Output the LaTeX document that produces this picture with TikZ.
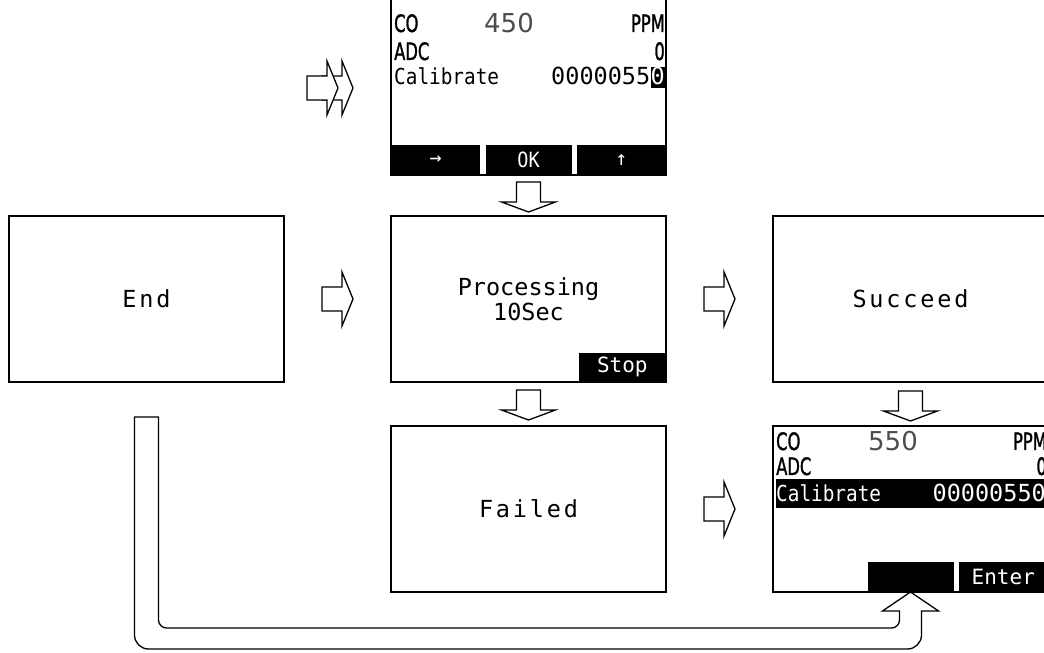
\documentclass[tikz,border=0pt]{standalone}
\usepackage{fontspec}
\setmainfont{DejaVu Sans}
\newfontfamily\lcdfont{DejaVu Sans Mono}
\newfontfamily\lcdwide[LetterSpace=12]{DejaVu Sans Mono}
\newfontfamily\lcdnarrow[FakeStretch=0.88]{DejaVu Sans Mono}
\newfontfamily\lcdcond[FakeStretch=0.68, FakeBold=1.2]{DejaVu Sans}
\usetikzlibrary{positioning}

% block arrows, tip at #1
\newcommand{\blockright}[1]{%
  \draw[blockarrow] (#1) -- ++(-11,27) -- ++(0,-15) -- ++(-20,0) -- ++(0,-24) -- ++(20,0) -- ++(0,-15) -- cycle;}
\newcommand{\blockdown}[1]{%
  \draw[blockarrow] (#1) -- ++(-27,10) -- ++(15,0) -- ++(0,20) -- ++(24,0) -- ++(0,-20) -- ++(15,0) -- cycle;}

\begin{document}
\begin{tikzpicture}[
    x=1pt, y=1pt,
    screen/.style={
        draw, line width=1.3pt,
        minimum width=275pt, minimum height=166pt,
        inner sep=0pt, outer sep=0pt,
        font=\lcdfont\fontsize{23.5}{25}\selectfont
    },
    state/.style={screen, font=\lcdwide\fontsize{23.5}{25}\selectfont},
    blockarrow/.style={draw, fill=white, line width=1.3pt, line join=miter},
    softkey/.style={fill=black, text=white, inner sep=0pt, minimum height=30pt},
    row/.style={anchor=base west, inner sep=0pt, font=\lcdcond\fontsize{24}{26}\selectfont},
    label/.style={anchor=base west, inner sep=0pt, font=\lcdnarrow\fontsize{22}{24}\selectfont},
    value/.style={anchor=base east, inner sep=0pt, font=\lcdfont\fontsize{23.5}{25}\selectfont},
    reading/.style={anchor=base, inner sep=0pt, text=black!70, font=\fontsize{26}{28}\selectfont}
]
\useasboundingbox (0,0) rectangle (1044,653);

% Screens
\node[screen, align=center] (proc) at (528.5,354) {Processing\\10Sec};
\node[state, left=107pt of proc] (endbox) {End};
\node[state, right=107pt of proc] (succeed) {Succeed};
\node[state, below=44pt of proc] (failed) {Failed};
\node[screen, below=44pt of succeed] (result) {};
\node[screen, above=41pt of proc, minimum height=190pt] (setup) {};

% Setup screen
\node[row] (co1) at ([xshift=3pt,yshift=143pt]setup.south west) {CO};
\node[reading] (ppm1) at ([xshift=118pt,yshift=142pt]setup.south west) {450};
\node[row, anchor=base east] (unit1) at ([xshift=-1pt,yshift=143pt]setup.south east) {PPM};
\node[row] (adc1) at ([xshift=3pt,yshift=115pt]setup.south west) {ADC};
\node[row, anchor=base east] (adcval1) at ([xshift=-1pt,yshift=115pt]setup.south east) {0};
\node[label] (cal1) at ([xshift=3pt,yshift=90pt]setup.south west) {Calibrate};
\node[value, fill=black, text=white, text height=18pt, text depth=3pt] (cursor) at ([xshift=-1pt,yshift=90pt]setup.south east) {0};
\node[value] (calval1) at (cursor.base west) {0000055};
\node[softkey, anchor=south west, minimum width=89pt, font=\lcdfont\fontsize{20}{22}\selectfont] (keyright) at (setup.south west) {→};
\node[softkey, anchor=south, minimum width=86pt, font=\lcdnarrow\fontsize{21}{23}\selectfont] (keyok) at (setup.south) {OK};
\node[softkey, anchor=south east, minimum width=89pt, font=\lcdfont\fontsize{20}{22}\selectfont] (keyup) at (setup.south east) {↑};

% Processing screen
\node[softkey, anchor=south east, minimum width=87pt, minimum height=29pt, font=\lcdfont\fontsize{21}{23}\selectfont] (keystop) at (proc.south east) {Stop};

% Result screen
\node[row] (co2) at ([xshift=3pt,yshift=142pt]result.south west) {CO};
\node[reading] (ppm2) at ([xshift=120pt,yshift=141pt]result.south west) {550};
\node[row, anchor=base east] (unit2) at ([xshift=-1pt,yshift=142pt]result.south east) {PPM};
\node[row] (adc2) at ([xshift=3pt,yshift=117pt]result.south west) {ADC};
\node[row, anchor=base east] (adcval2) at ([xshift=-1pt,yshift=117pt]result.south east) {0};
\node[softkey, anchor=south east, minimum width=272pt, minimum height=29pt] (calbar) at ([yshift=84pt]result.south east) {};
\node[label, text=white] (cal2) at ([xshift=3pt,yshift=90pt]result.south west) {Calibrate};
\node[value, text=white] (calval2) at ([xshift=-2pt,yshift=90pt]result.south east) {00000550};
\node[softkey, anchor=south, minimum width=86pt] (keyblank) at (result.south) {};
\node[softkey, anchor=south east, minimum width=89pt, font=\lcdfont\fontsize{21}{23}\selectfont] (keyenter) at (result.south east) {Enter};

% Arrows between screens
\coordinate (feed) at ([xshift=-38pt,yshift=87pt]setup.south west);
\blockright{feed}
\blockright{[xshift=-15pt]feed}
\blockdown{[yshift=4pt]proc.north}
\blockright{[xshift=-38pt]proc.west}
\blockright{[xshift=-38pt]succeed.west}
\blockdown{[yshift=6pt]failed.north}
\blockdown{[yshift=5pt]result.north}
\blockright{[xshift=-38pt]result.west}

% Return arrow from End to the blank key
\coordinate (topU) at ([yshift=-35pt]endbox.south);
\coordinate (tipU) at (result.south);
\coordinate (baseU) at ([yshift=-19pt]tipU);
\coordinate (floorin) at ([yshift=-36pt]tipU);
\coordinate (floorout) at ([yshift=-57pt]tipU);
\draw[blockarrow] ([xshift=-12pt]topU) -- ([xshift=12pt]topU)
  -- ([xshift=12pt,yshift=8pt]topU |- floorin) arc[start angle=180, end angle=270, radius=8pt]
  -- ([xshift=-19pt]floorin) arc[start angle=270, end angle=360, radius=8pt]
  -- ([xshift=-11pt]baseU) -- ([xshift=-28pt]baseU) -- (tipU) -- ([xshift=28pt]baseU) -- ([xshift=11pt]baseU)
  -- ([xshift=11pt,yshift=14pt]floorout) arc[start angle=0, end angle=-90, radius=14pt]
  -- ([xshift=2pt]topU |- floorout) arc[start angle=270, end angle=180, radius=14pt]
  -- cycle;

\end{tikzpicture}
\end{document}
